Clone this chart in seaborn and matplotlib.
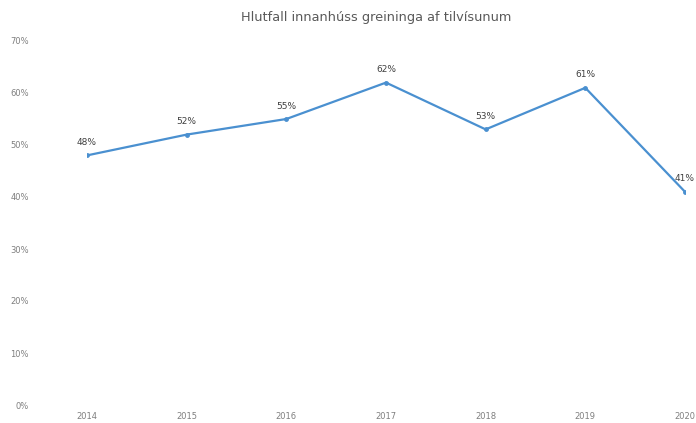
import pandas as pd
import seaborn as sns
import matplotlib.pyplot as plt

years = [2014, 2015, 2016, 2017, 2018, 2019, 2020]
share = [48, 52, 55, 62, 53, 61, 41]
y_ticks = [0, 10, 20, 30, 40, 50, 60, 70]

df = pd.DataFrame({"year": years, "share": share})

sns.set_style("white")
fig = plt.figure(figsize=(6.96, 4.23), dpi=100)
ax = fig.add_axes([87 / 696, 18 / 423, 598 / 696, 364 / 423])

sns.lineplot(data=df, x="year", y="share", ax=ax, color="#4a90d0",
             linewidth=1.6, marker="o", markersize=3.5, markeredgewidth=0)

for x, y in zip(years, share):
    ax.annotate(f"{y}%", (x, y), xytext=(0, 6), textcoords="offset points",
                ha="center", va="bottom", fontsize=6.5, color="#404040")

ax.set_xlim(2014, 2020)
ax.set_ylim(0, 70)
ax.set_xticks(years)
ax.set_yticks(y_ticks)
ax.set_yticklabels([f"{t}%" for t in y_ticks])
ax.tick_params(axis="y", length=0, pad=42, labelsize=6, labelcolor="#7f7f7f")
ax.tick_params(axis="x", length=0, pad=5, labelsize=6, labelcolor="#7f7f7f")
ax.set_xlabel("")
ax.set_ylabel("")
for s in ax.spines.values():
    s.set_visible(False)

fig.text(376 / 696, 1 - 17 / 423, "Hlutfall innanhúss greininga af tilvísunum",
         ha="center", va="center", fontsize=9.3, color="#595959")

fig.savefig("out.png", dpi=100)
